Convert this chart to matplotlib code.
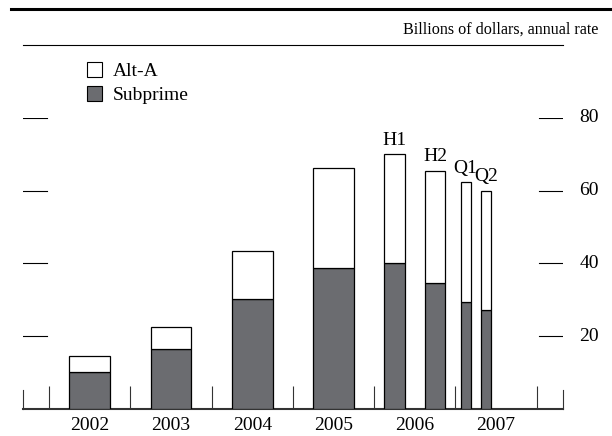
import numpy as np
import matplotlib
matplotlib.use("Agg")
import matplotlib.pyplot as plt
from matplotlib.lines import Line2D
from matplotlib.patches import Patch

plt.rcParams['font.family'] = ['Liberation Serif', 'DejaVu Serif']

# data (billions of dollars, annual rate)
years = ['2002', '2003', '2004', '2005', '2006', '2007']
periods = ['2002', '2003', '2004', '2005', '2006 H1', '2006 H2', '2007 Q1', '2007 Q2']
subprime = [10.3, 16.4, 30.3, 38.8, 40.2, 34.7, 29.4, 27.1]
alt_a = [4.4, 6.1, 13.0, 27.5, 29.8, 30.7, 32.9, 32.9]
y_ticks = [20, 40, 60, 80]

GRAY = '#6b6c70'
W, H = 612, 436


def slot(period):
    # centre offset within the year and bar width
    year, _, part = period.partition(' ')
    base = years.index(year)
    if part == 'H1':
        return base - 0.25, 0.25, part
    if part == 'H2':
        return base + 0.25, 0.25, part
    if part == 'Q1':
        return base - 0.375, 0.125, part
    if part == 'Q2':
        return base - 0.125, 0.125, part
    return base, 0.5, part


xs, ws, parts = zip(*[slot(p) for p in periods])
xs = np.array(xs)
ws = np.array(ws)

fig = plt.figure(figsize=(W / 100, H / 100), dpi=100)
ax = fig.add_axes([22.7 / W, (H - 409) / H, (563.3 - 22.7) / W, 291 / H])
ax.set_xlim(-0.823, 5.826)
ax.set_ylim(0, 80)

ax.bar(xs, subprime, width=ws, color=GRAY, edgecolor='black', linewidth=0.9, zorder=3)
ax.bar(xs, alt_a, width=ws, bottom=subprime, color='white', edgecolor='black',
       linewidth=0.9, zorder=3)

tops = np.array(subprime) + np.array(alt_a)
for x, t, part in zip(xs, tops, parts):
    if part:
        ax.annotate(part, (x, t), xytext=(0, 7), textcoords='offset points',
                    ha='center', va='baseline', fontsize=14, annotation_clip=False)

# y ticks drawn as short dashes at both ends
for v in y_ticks:
    ax.axhline(v, xmin=0, xmax=(46.7 - 22.7) / 540.6, color='black', lw=0.8)
    ax.axhline(v, xmin=(539 - 22.7) / 540.6, xmax=1, color='black', lw=0.8)
    ax.text(1.0 + (579.3 - 563.3) / 540.6, v, str(v), transform=ax.get_yaxis_transform(),
            ha='left', va='center', fontsize=14)

ax.set_yticks([])
ax.set_xticks(range(len(years)))
ax.set_xticklabels(years, fontsize=14)
ax.tick_params(axis='x', length=0, pad=6)
ax.set_xticks(np.arange(-0.5, len(years)), minor=True)
ax.tick_params(axis='x', which='minor', direction='in', length=23 * 0.72,
               width=0.8, color='#333333')

ax.spines['top'].set_visible(False)
ax.spines['bottom'].set_linewidth(1.5)
ax.spines['bottom'].set_color('#333333')
for s in ['left', 'right']:
    ax.spines[s].set_bounds(0, 19 / 3.6375)
    ax.spines[s].set_linewidth(0.8)
    ax.spines[s].set_color('#333333')

# header rules and units
fig.add_artist(Line2D([11 / W, 1], [1 - 8.7 / H] * 2, color='black', lw=2.2))
fig.add_artist(Line2D([22.7 / W, 562.7 / W], [1 - 45 / H] * 2, color='black', lw=0.8))
fig.text(598 / W, 1 - 30 / H, 'Billions of dollars, annual rate', ha='right',
         va='center', fontsize=11.6)

handles = [Patch(facecolor='white', edgecolor='black', linewidth=0.8),
           Patch(facecolor=GRAY, edgecolor='black', linewidth=0.8)]
fig.legend(handles, ['Alt-A', 'Subprime'], loc='upper left',
           bbox_to_anchor=(86.5 / W, 1 - 62 / H), frameon=False, fontsize=14,
           handlelength=0.8, handleheight=0.8, handletextpad=0.55,
           labelspacing=0.3, borderaxespad=0, borderpad=0)

fig.savefig('out.png', dpi=100)
